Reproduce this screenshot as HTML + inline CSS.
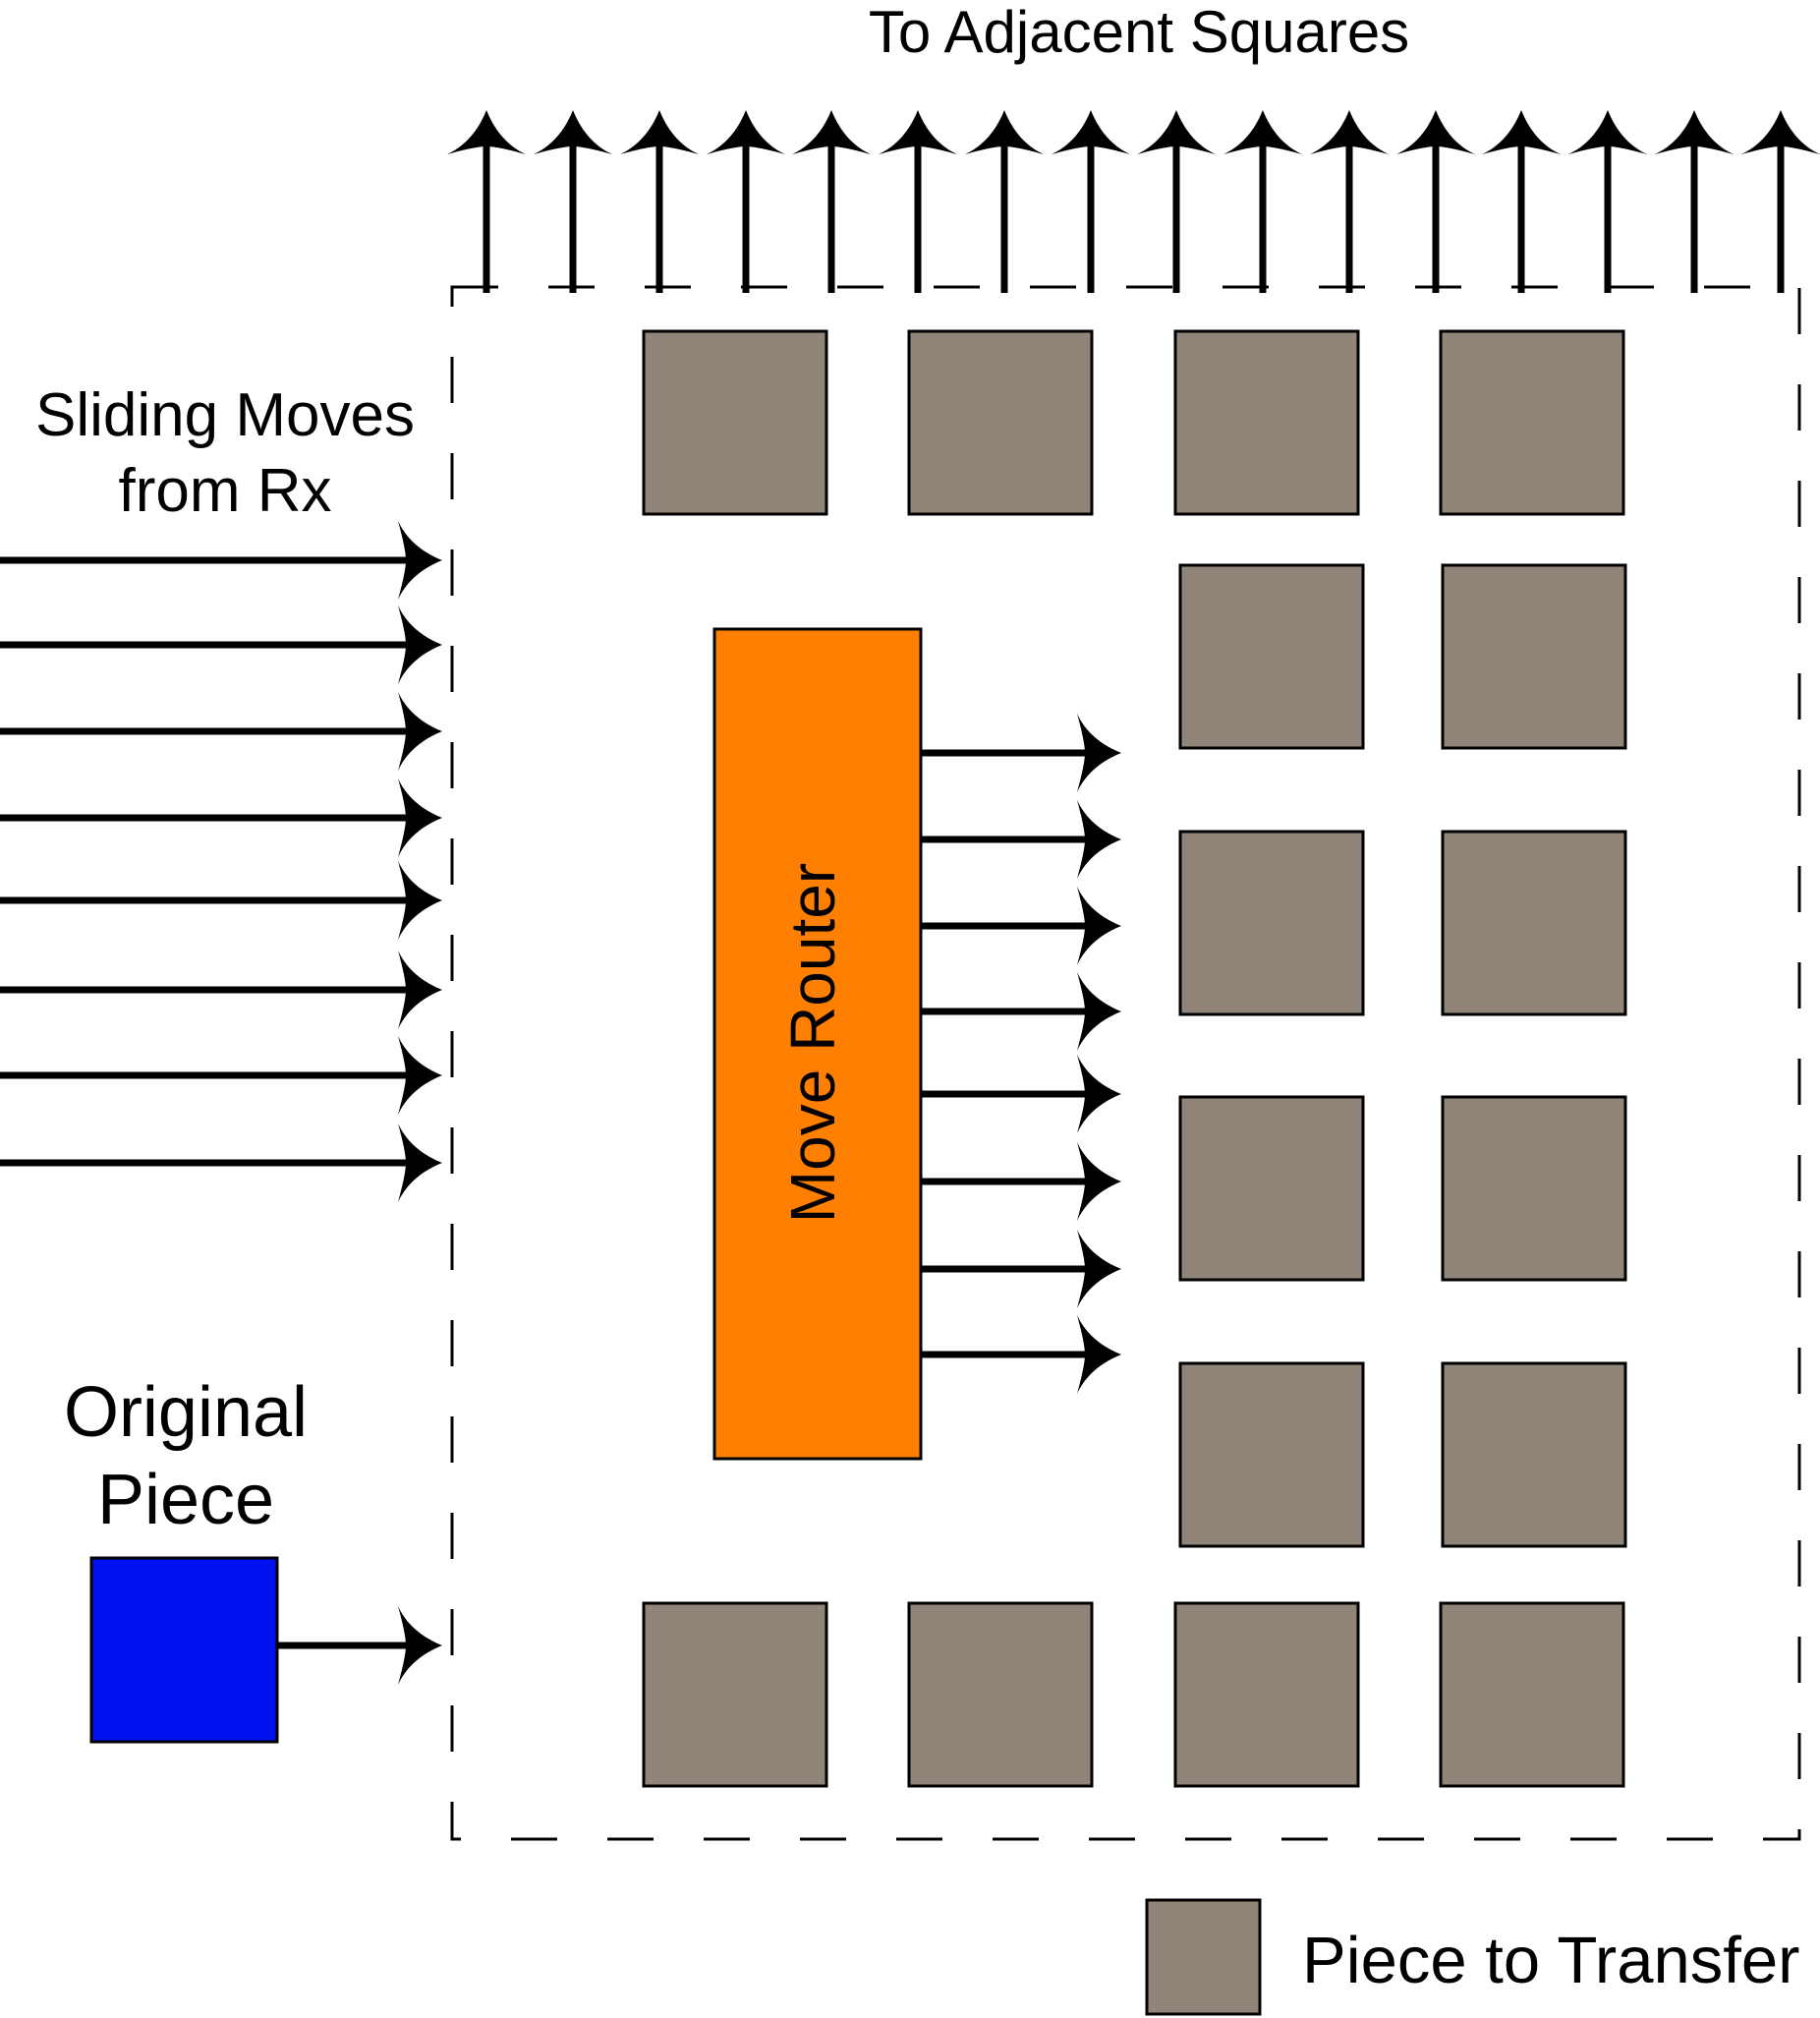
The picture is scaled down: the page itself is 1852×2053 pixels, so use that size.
<!DOCTYPE html>
<html><head><meta charset="utf-8"><style>
html,body{margin:0;padding:0;background:#fff}
svg{display:block}
text{font-family:"Liberation Sans",sans-serif;fill:#000}
</style></head><body>
<svg id="c" width="1852" height="2053" viewBox="0 0 1852 2053">
<defs>
<path id="head" d="M0,0 C10,25 25,38 40,45 C22,40 8,37 0,37 C-8,37 -22,40 -40,45 C-25,38 -10,25 0,0Z" fill="#000"/>
</defs>
<rect x="460" y="292" width="1371" height="1579" fill="none" stroke="#000" stroke-width="3" stroke-dasharray="47 51"/>
<g id="top"></g>
<g id="left"></g>
<g id="router-out"></g>
<g id="pieces"></g>
<rect x="727" y="640" width="210" height="844" fill="#ff8000" stroke="#000" stroke-width="3"/>
<text x="832" y="1061" font-size="64" text-anchor="middle" dominant-baseline="middle" transform="rotate(-90 832 1061)">Move Router</text>
<rect x="93" y="1585" width="189" height="187" fill="#0010ee" stroke="#000" stroke-width="3"/>
<text x="1159" y="53" font-size="60" text-anchor="middle">To Adjacent Squares</text>
<text x="229" y="443" font-size="62" text-anchor="middle">Sliding Moves</text>
<text x="229" y="520" font-size="62" text-anchor="middle">from Rx</text>
<text x="189" y="1461" font-size="72" text-anchor="middle">Original</text>
<text x="189" y="1550" font-size="72" text-anchor="middle">Piece</text>
<rect x="1167" y="1933" width="115" height="116" fill="#908578" stroke="#000" stroke-width="3"/>
<text x="1325" y="2017" font-size="67">Piece to Transfer</text>
</svg>
<script>
const NS="http://www.w3.org/2000/svg";
const topX=[495,583,671,759,846,934,1022,1110,1197,1285,1373,1461,1548,1636,1724,1812];
const leftY=[570,656,744,832,916,1007,1094,1183,1674];
const routerY=[766,854,942,1029,1113,1202,1291,1378];
const pieces=[[655,337],[925,337],[1196,337],[1466,337],[1201,575],[1468,575],[1201,846],[1468,846],[1201,1116],[1468,1116],[1201,1387],[1468,1387],[655,1631],[925,1631],[1196,1631],[1466,1631]];
function line(g,x1,y1,x2,y2){const l=document.createElementNS(NS,'line');
l.setAttribute('x1',x1);l.setAttribute('y1',y1);l.setAttribute('x2',x2);l.setAttribute('y2',y2);
l.setAttribute('stroke','#000');l.setAttribute('stroke-width','7');


g.appendChild(l);}
function head(g,x,y,rot){const u=document.createElementNS(NS,'use');
u.setAttribute('href','#head');u.setAttribute('transform','translate('+x+' '+y+') rotate('+rot+')');


g.appendChild(u);}
const gt=document.getElementById('top');
topX.forEach(x=>{line(gt,x,298,x,140);head(gt,x,112,0);});
const gl=document.getElementById('left');
leftY.forEach((y,i)=>{line(gl,i==8?282:0,y,425,y);head(gl,450,y,90);});
const gr=document.getElementById('router-out');
routerY.forEach(y=>{line(gr,937,y,1115,y);head(gr,1141,y,90);});
const gp=document.getElementById('pieces');
pieces.forEach(p=>{const r=document.createElementNS(NS,'rect');
r.setAttribute('x',p[0]);r.setAttribute('y',p[1]);r.setAttribute('width',186);r.setAttribute('height',186);
r.setAttribute('fill','#908578');r.setAttribute('stroke','#000');r.setAttribute('stroke-width','3');


gp.appendChild(r);});
</script>
</body></html>
